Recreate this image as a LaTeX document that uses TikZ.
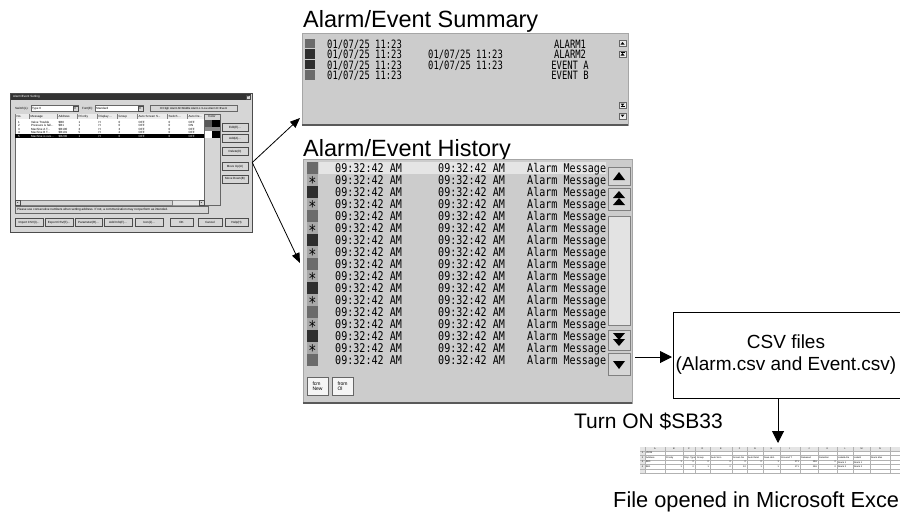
\documentclass[tikz,border=0pt]{standalone}
\usepackage{fontspec}
\setmainfont{Liberation Sans}
\newfontfamily\lcdsum[FakeStretch=0.77]{DejaVu Sans Mono}
\newfontfamily\lcdhis[FakeStretch=0.84]{DejaVu Sans Mono}
\usetikzlibrary{arrows.meta,positioning}

\definecolor{panelgray}{gray}{0.80}
\definecolor{rowhi}{gray}{0.90}
\definecolor{cellmid}{gray}{0.42}
\definecolor{celldark}{gray}{0.18}
\definecolor{celllt}{gray}{0.66}
\definecolor{wingray}{gray}{0.84}

\begin{document}
\begin{tikzpicture}[x=1pt, y=-1pt,
    arr/.style={-{Triangle[length=10pt,width=8pt]}, line width=0.8pt},
    bigarr/.style={-{Triangle[length=12pt,width=12pt]}, line width=1pt},
    winbtn/.style={draw=black!70, fill=wingray, line width=0.3pt, inner sep=0pt, minimum height=8pt, font=\fontsize{3}{3}\selectfont},
    cbox/.style={draw=black!60, fill=white, line width=0.3pt, inner sep=0pt, minimum height=6pt},
    tinytxt/.style={inner sep=0pt, font=\fontsize{3}{3}\selectfont},
    xltxt/.style={inner sep=0pt, font=\fontsize{2.3}{2.3}\selectfont},
    ttl/.style={inner sep=0pt, anchor=base west, font=\fontsize{23.5}{28}\selectfont},
    lbltxt/.style={inner sep=0pt, font=\fontsize{19}{22}\selectfont},
    sumtxt/.style={inner sep=0pt, anchor=base west, font=\fontsize{11.5}{12}\lcdsum},
    histxt/.style={inner sep=0pt, anchor=base west, font=\fontsize{12}{12}\lcdhis},
    ast/.style={inner sep=0pt, anchor=base, font=\fontsize{16}{16}\lcdhis},
    sbtn/.style={draw=black!60, fill=white!85!gray, line width=0.4pt},
    hbtn/.style={draw=black!50, fill=wingray, line width=0.6pt}]
\useasboundingbox (0,0) rectangle (900,512);

% Dialog
\node[draw=black!70, fill=wingray, line width=0.5pt, minimum width=242pt, minimum height=139pt, inner sep=0pt] (dlg) at (131,162.5) {};
\fill[black!80] (11,94) rectangle (251,100);
\node[tinytxt, text=white, anchor=west] (dlgttl) at (13,97) {Alarm/Event Setting};
\node[winbtn, minimum width=4pt, minimum height=4pt] (dlgx) at (248,97) {x};
\node[tinytxt, anchor=west] (swl) at (15,108.5) {Switch(L):};
\node[cbox, minimum width=47pt] (swbox) at (54.5,108.5) {};
\node[tinytxt, anchor=west] (swval) at ([xshift=1pt]swbox.west) {Type 0};
\node[winbtn, minimum width=5pt, minimum height=5pt, font=\fontsize{2.5}{2.5}\selectfont] (swdd) at ([xshift=-3pt]swbox.east) {▼};
\node[tinytxt, anchor=west] (fnl) at (82,108.5) {Font(E):};
\node[cbox, minimum width=48pt] (fnbox) at (119,108.5) {};
\node[tinytxt, anchor=west] (fnval) at ([xshift=1pt]fnbox.west) {Standard};
\node[winbtn, minimum width=5pt, minimum height=5pt, font=\fontsize{2.5}{2.5}\selectfont] (fndd) at ([xshift=-3pt]fnbox.east) {▼};
\node[cbox, fill=wingray, minimum width=87pt, font=\fontsize{2.8}{2.8}\selectfont] (lvl) at (193.5,108.5) {H=High Alarm M=Middle Alarm L=Low Alarm E=Event};

% Tabulka
\filldraw[fill=white, draw=black!60, line width=0.3pt] (15,114) rectangle (204,205);
\filldraw[fill=wingray, draw=black!60, line width=0.3pt] (204,114) rectangle (220,205);
\fill[gray!15] (15,114) rectangle (204,119);
\foreach \x/\t [count=\k] in {15/No., 29/Message, 57/Address, 77/Priority, 97/{Display ...}, 117/Group, 137/{Auto Screen S...}, 167/{Switch ...}, 187/{Auto De...}}{
    \draw[black!50, line width=0.2pt] (\x,114) -- (\x,119);
    \node[tinytxt, anchor=west] (hd\k) at (\x+1.5,116.5) {\t};
}
\node[tinytxt] (hdcol) at (212,116.5) {Color};
\fill[black] (15,134.2) rectangle (204,137.8);
\foreach \n/\y/\m/\a/\p/\g/\d/\c in {1/122/{Valve Trouble}/\$B0/1/0/OFF/black, 2/125.5/{Pressure is fall...}/\$B1/1/0/ON/black, 3/129/{Machine A T...}/\$B100/3/3/OFF/black, 4/132.5/{Machine B T...}/\$B101/5/2/OFF/black, 5/136/{Machine is ove...}/\$B200/1/0/OFF/white}{
    \node[tinytxt, anchor=west, text=\c] (rn\n) at (18,\y) {\n};
    \node[tinytxt, anchor=west, text=\c] (rm\n) at (31,\y) {\m};
    \node[tinytxt, anchor=west, text=\c] (ra\n) at (58.5,\y) {\a};
    \node[tinytxt, anchor=west, text=\c] (rp\n) at (78.5,\y) {\p};
    \node[tinytxt, anchor=west, text=\c] (rh\n) at (98.5,\y) {H};
    \node[tinytxt, anchor=west, text=\c] (rg\n) at (118.5,\y) {\g};
    \node[tinytxt, anchor=west, text=\c] (rs\n) at (138.5,\y) {OFF};
    \node[tinytxt, anchor=west, text=\c] (rw\n) at (168.5,\y) {0};
    \node[tinytxt, anchor=west, text=\c] (rd\n) at (188.5,\y) {\d};
}
% barvy
\fill[black!65] (205,120) rectangle (212,127);
\fill[black] (212,120) rectangle (219.5,128.5);
\fill[black!45] (205,127) rectangle (219.5,131);
\fill[white] (205,131) rectangle (212,138);
\fill[black] (212,131) rectangle (219.5,138);
% posuvnik
\filldraw[fill=gray!20, draw=black!40, line width=0.2pt] (15,200) rectangle (204,205);
\filldraw[fill=wingray, draw=black!50, line width=0.2pt] (20,200.4) rectangle (172,204.6);
\node[winbtn, minimum width=4.5pt, minimum height=4.5pt, font=\fontsize{2}{2}\selectfont] (hsl) at (17.5,202.5) {◄};
\node[winbtn, minimum width=4.5pt, minimum height=4.5pt, font=\fontsize{2}{2}\selectfont] (hsr) at (201.5,202.5) {►};

% Tlacitka
\node[winbtn, minimum width=26pt] (bedit) at (235,127.5) {Edit(E)...};
\node[winbtn, minimum width=26pt] (badd) at (235,138.5) {Add(A)...};
\node[winbtn, minimum width=26pt] (bdel) at (235,151.5) {Delete(D)};
\node[winbtn, minimum width=26pt] (bup) at (235,166.5) {Move Up(U)};
\node[winbtn, minimum width=26pt] (bdown) at (235,179) {Move Down(B)};
\node[cbox, fill=wingray, minimum width=193pt, minimum height=7pt] (msg) at (111.5,209.5) {};
\node[tinytxt, anchor=west, font=\fontsize{3.1}{3.1}\selectfont] (msgt) at ([xshift=2pt]msg.west) {Please use consecutive numbers when setting address. If not, a communication may not perform as intended.};
\foreach \c/\w/\t [count=\k] in {29/28/{Import CSV(I)...}, 59/28/{Export CSV(E)...}, 88.5/27/{Parameter(R)...}, 118/28/{Add Info(F)...}, 149/28/{Icon(J)...}, 181.5/23/OK, 210/24/Cancel, 236.5/23/Help(H)}{
    \node[winbtn, minimum width=\w pt] (bb\k) at (\c,222.5) {\t};
}

% Summary
\node[ttl] (sumttl) at (303,27) {Alarm/Event Summary};
\node[draw=gray!70, fill=panelgray, minimum width=326pt, minimum height=92pt, inner sep=0pt] (sum) at (465,79) {};
\draw[black!65, line width=1.5pt] (sum.south west) -- (sum.south east);
\foreach \i/\c/\b/\m in {1/cellmid/{}/ALARM1, 2/celldark/{01/07/25 11:23}/ALARM2, 3/celldark/{01/07/25 11:23}/EVENT A, 4/cellmid/{}/EVENT B}{
    \pgfmathsetmacro\yb{37.5+10.6*\i}
    \fill[\c] (305,\yb-9.5) rectangle (315,\yb);
    \node[sumtxt] (sa\i) at (327,\yb) {01/07/25 11:23};
    \node[sumtxt] (sb\i) at (428,\yb) {\b};
    \node[sumtxt, anchor=base] (sc\i) at (570,\yb) {\m};
}
% male sipky
\foreach \y/\k in {40/1, 51/2, 102/3, 113/4}{
    \filldraw[sbtn] (619,\y) rectangle (626,\y+6.5);
}
\fill (620.5,44.5) -- (624.5,44.5) -- (622.5,42) -- cycle;
\fill (620.5,55.5) -- (624.5,55.5) -- (622.5,53) -- cycle;
\draw[line width=0.6pt] (620.5,52.6) -- (624.5,52.6);
\fill (620.5,103.5) -- (624.5,103.5) -- (622.5,106) -- cycle;
\draw[line width=0.6pt] (620.5,106.6) -- (624.5,106.6);
\fill (620.5,114.5) -- (624.5,114.5) -- (622.5,117) -- cycle;

% History
\node[ttl] (histttl) at (303,156) {Alarm/Event History};
\node[draw=gray!70, fill=panelgray, minimum width=329pt, minimum height=244pt, inner sep=0pt] (hist) at (467.5,281) {};
\draw[black!65, line width=1.5pt] (hist.south west) -- (hist.south east);
\fill[rowhi] (319,162) rectangle (606,174);
\foreach \i in {1,...,17}{
    \pgfmathsetmacro\yc{156+12*\i}
    \pgfmathtruncatemacro\r{mod(\i,4)}
    \ifodd\i
        \ifnum\r=1 \colorlet{cc}{cellmid}\else \colorlet{cc}{celldark}\fi
        \fill[cc] (307,\yc-6) rectangle (318,\yc+6);
    \else
        \fill[celllt] (307,\yc-6) rectangle (318,\yc+6);
        \node[ast] (hs\i) at (312.5,\yc+8) {*};
    \fi
    \node[histxt] (ha\i) at (335,\yc+4.3) {09:32:42 AM};
    \node[histxt] (hb\i) at (438,\yc+4.3) {09:32:42 AM};
    \node[histxt] (hc\i) at (527,\yc+4.3) {Alarm Message};
}
% posuvnik
\filldraw[hbtn] (608,167) rectangle (630,185);
\filldraw[hbtn] (608,188) rectangle (630,210);
\filldraw[hbtn, fill=gray!22] (608,216) rectangle (630,325);
\filldraw[hbtn] (608,330) rectangle (630,350);
\filldraw[hbtn] (608,353) rectangle (630,375);
\fill (613,180) -- (625,180) -- (619,172) -- cycle;
\fill (613,198) -- (625,198) -- (619,191) -- cycle;
\fill (613,205) -- (625,205) -- (619,198) -- cycle;
\fill (613,333) -- (625,333) -- (619,340) -- cycle;
\fill (613,339) -- (625,339) -- (619,346) -- cycle;
\fill (613,361) -- (625,361) -- (619,369) -- cycle;
\node[draw=black!60, fill=white!92!gray, minimum width=21pt, minimum height=18pt, inner sep=1pt, align=left, font=\fontsize{5}{5.5}\selectfont] (bnew) at (317.5,386) {fcm\\New};
\node[draw=black!60, fill=white!92!gray, minimum width=21pt, minimum height=18pt, inner sep=1pt, align=left, font=\fontsize{5}{5.5}\selectfont] (bold) at (342.5,386) {from\\Ol};

% Sipky
\coordinate (sumin) at (300,118);
\coordinate (histin) at (300,263);
\draw[arr] (dlg.east) -- (sumin);
\draw[arr] (dlg.east) -- (histin);

% CSV
\node[lbltxt, align=center] (csv) at (786,355) {CSV files\\(Alarm.csv and Event.csv)};
\coordinate (csvnw) at (673,312);
\coordinate (csvsw) at (673,398);
\draw[line width=0.8pt] (900,312) -- (csvnw) -- (csvsw) -- (900,398);
\coordinate (histout) at (635,357);
\coordinate (csvin) at (672,357);
\draw[bigarr] (histout) -- (csvin);
\node[lbltxt, anchor=base east, font=\fontsize{21}{24}\selectfont] (sbtxt) at (723,428) {Turn ON \$SB33};
\coordinate (csvout) at (778,399);
\coordinate (xlin) at (778,443);
\draw[bigarr] (csvout) -- (xlin);

% Excel
\fill[white] (640,447) rectangle (900,473);
\fill[gray!20] (640,447) rectangle (900,451);
\fill[gray!20] (640,447) rectangle (645,473);
\foreach \x in {645,665,683,695,710,732,747,763,780,800,818,837,853,870,890}{
    \draw[gray!60, line width=0.2pt] (\x,447) -- (\x,473);
}
\foreach \y in {451,455.5,460,464.5,469,473}{
    \draw[gray!60, line width=0.2pt] (640,\y) -- (900,\y);
}
\foreach \x/\t in {655/A, 674/B, 689/C, 702.5/D, 721/E, 739.5/F, 755/G, 771.5/H, 790/I, 809/J, 827.5/K, 845/L, 861.5/M, 880/N}{
    \node[xltxt] (xc\t) at (\x,449) {\t};
}
\foreach \y/\t in {453.2/1, 457.7/2, 462.2/3, 466.7/4}{
    \node[xltxt] (xr\t) at (642.5,\y) {\t};
}
\node[xltxt, anchor=west] (x1a) at (646,453.2) {VER6};
\foreach \x/\t [count=\k] in {646/Address, 666/Priority, 684/{Disp. Type}, 697/Group, 711/{Auto Scrn}, 733/{Screen No}, 748/{Auto Delet}, 764/{Save Hist.}, 781/{Occured T}, 801/Released, 819/Detection, 838/{Label6 Ala}, 854/Label1, 871/{Alarm Mes}}{
    \node[xltxt, anchor=west] (x2\k) at (\x,457.7) {\t};
}
\foreach \x/\a/\b [count=\k] in {682/1/1, 694/0/0, 709/0/1, 731/0/0, 746/0/10, 762/0/1, 779/1/1, 799/171/171, 817/196/196, 836/0/0}{
    \node[xltxt, anchor=east] (x3\k) at (\x,462.2) {\a};
    \node[xltxt, anchor=east] (x4\k) at (\x,466.7) {\b};
}
\node[xltxt, anchor=west] (x3a) at (646,462.2) {\$B0};
\node[xltxt, anchor=west] (x4a) at (646,466.7) {\$B1};
\node[xltxt, anchor=west] (x3l) at (838,462.2) {Alarm 1};
\node[xltxt, anchor=west] (x3m) at (854,462.2) {Alarm 1};
\node[xltxt, anchor=west] (x4l) at (838,466.7) {Alarm 2};
\node[xltxt, anchor=west] (x4m) at (854,466.7) {Alarm 2};
\node[lbltxt, anchor=base west, font=\fontsize{21.8}{24}\selectfont] (xlcap) at (613,507) {File opened in Microsoft Exce};

\end{tikzpicture}
\end{document}
